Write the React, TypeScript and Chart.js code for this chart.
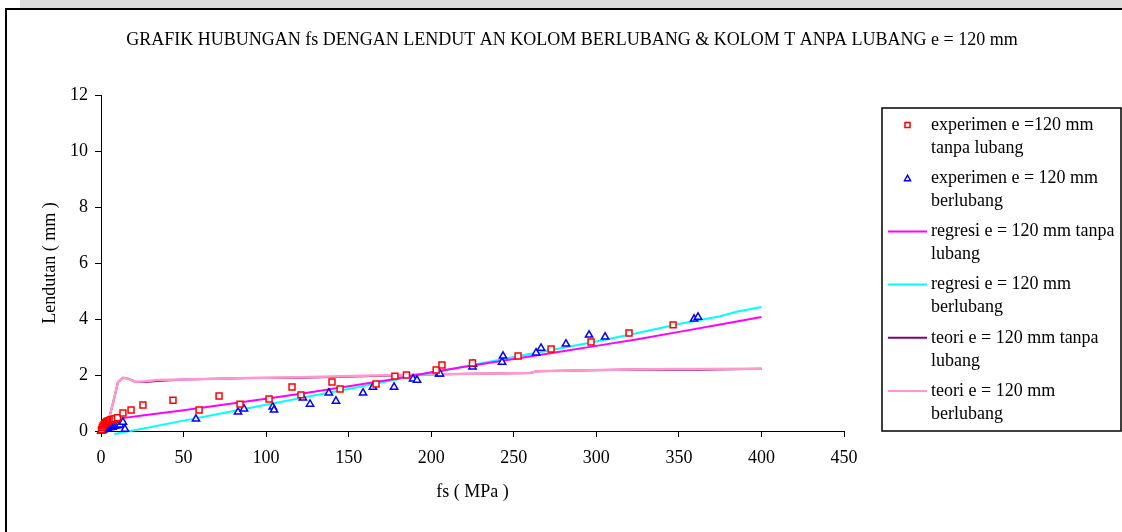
import React, { useEffect, useRef } from "react";
import { Chart, registerables } from "chart.js";

Chart.register(...registerables);

const CANVAS_W = 1122;
const CANVAS_H = 532;

const TITLE = "GRAFIK HUBUNGAN fs DENGAN LENDUT AN KOLOM BERLUBANG & KOLOM T ANPA LUBANG e = 120 mm";
const X_TITLE = "fs ( MPa )";
const Y_TITLE = "Lendutan ( mm )";

const X_MIN = 0;
const X_MAX = 450;
const X_STEP = 50;
const Y_MIN = 0;
const Y_MAX = 12;
const Y_STEP = 2;

// experimen e = 120 mm tanpa lubang (red squares)
const expTanpaX = [0.3, 0.8, 1.2, 1.8, 2.3, 2.9, 3.4, 4.0, 4.6, 5.3, 6.0, 6.8, 7.6, 8.5, 10.0, 13.3, 18.2, 25.4, 43.6, 59.4, 71.5, 84.2, 101.8, 115.7, 121.1, 139.9, 144.8, 166.6, 178.0, 185.0, 203.0, 206.5, 225.0, 252.6, 272.6, 296.8, 319.8, 346.5];
const expTanpaY = [0.05, 0.12, 0.18, 0.22, 0.27, 0.3, 0.33, 0.35, 0.36, 0.38, 0.4, 0.38, 0.42, 0.44, 0.47, 0.64, 0.75, 0.93, 1.1, 0.75, 1.25, 0.96, 1.14, 1.57, 1.29, 1.75, 1.5, 1.68, 1.96, 2.0, 2.18, 2.36, 2.43, 2.68, 2.93, 3.18, 3.5, 3.79];

// experimen e = 120 mm berlubang (blue triangles)
const expBerX = [0.2, 0.6, 1.0, 1.5, 2.0, 2.6, 3.2, 3.9, 4.6, 5.4, 6.2, 7.0, 8.0, 9.0, 10.2, 11.5, 13.3, 14.5, 57.5, 83.0, 86.6, 104.0, 104.8, 122.3, 126.6, 138.0, 142.3, 158.7, 164.7, 177.5, 189.0, 191.4, 204.7, 205.3, 225.0, 225.3, 242.9, 243.5, 263.5, 266.5, 281.6, 295.6, 305.3, 359.2, 361.6];
const expBerY = [0.0, 0.02, 0.04, 0.05, 0.07, 0.08, 0.1, 0.1, 0.12, 0.13, 0.15, 0.14, 0.17, 0.18, 0.2, 0.22, 0.32, 0.07, 0.43, 0.68, 0.79, 0.86, 0.75, 1.18, 0.96, 1.36, 1.07, 1.36, 1.57, 1.57, 1.86, 1.82, 2.04, 2.04, 2.29, 2.39, 2.46, 2.68, 2.79, 2.96, 3.11, 3.43, 3.36, 4.0, 4.07];

// regresi e = 120 mm tanpa lubang (magenta)
const regTanpaX = [0.5, 5, 13, 25, 50, 75, 100, 125, 150, 175, 200, 225, 250, 275, 300, 325, 350, 375, 400];
const regTanpaY = [0.22, 0.35, 0.46, 0.55, 0.74, 0.95, 1.15, 1.37, 1.6, 1.83, 2.1, 2.34, 2.57, 2.8, 3.04, 3.28, 3.54, 3.8, 4.07];

// regresi e = 120 mm berlubang (cyan)
const regBerX = [8, 25, 50, 75, 100, 125, 150, 175, 200, 225, 250, 275, 300, 325, 350, 375, 385, 400];
const regBerY = [-0.11, 0.08, 0.37, 0.65, 0.94, 1.22, 1.5, 1.79, 2.07, 2.36, 2.64, 2.92, 3.2, 3.5, 3.82, 4.1, 4.26, 4.43];

// teori e = 120 mm tanpa lubang (purple)
const teoriTanpaX = [0, 3.5, 7.3, 10.3, 13.3, 16, 20.6, 27, 34, 50, 90, 120, 165, 205, 260, 264, 320, 350, 362, 400];
const teoriTanpaY = [0, 0.14, 1.0, 1.75, 1.9, 1.88, 1.76, 1.75, 1.79, 1.84, 1.89, 1.9, 1.96, 2.03, 2.07, 2.13, 2.2, 2.19, 2.19, 2.22];

// teori e = 120 mm berlubang (pink)
const teoriBerX = [0, 3.5, 7.3, 10.3, 13.3, 16, 20.6, 27, 34, 50, 90, 120, 165, 205, 260, 264, 320, 350, 362, 400];
const teoriBerY = [0, 0.14, 1.0, 1.75, 1.9, 1.88, 1.76, 1.78, 1.82, 1.84, 1.89, 1.92, 1.98, 2.03, 2.07, 2.13, 2.2, 2.21, 2.21, 2.22];

const LEGEND_TEXT = [
  ["experimen e =120 mm", "tanpa lubang"],
  ["experimen e = 120 mm", "berlubang"],
  ["regresi e = 120 mm tanpa", "lubang"],
  ["regresi e = 120 mm", "berlubang"],
  ["teori e = 120 mm tanpa", "lubang"],
  ["teori e = 120 mm", "berlubang"],
];

const FONT_FAMILY = "'Liberation Serif', 'Times New Roman', serif";

const zip = (xs: number[], ys: number[]) => xs.map((x, i) => ({ x, y: ys[i] }));

const decorPlugin = {
  id: "decor",
  beforeDraw(chart: any) {
    const ctx = chart.ctx;
    ctx.save();
    ctx.fillStyle = "#ffffff";
    ctx.fillRect(0, 0, chart.width, chart.height);
    ctx.fillStyle = "#dcdcdc";
    ctx.fillRect(20, 0, chart.width - 20, 8);
    ctx.strokeStyle = "#000000";
    ctx.lineWidth = 2;
    ctx.beginPath();
    ctx.moveTo(6, chart.height + 2);
    ctx.lineTo(6, 9);
    ctx.lineTo(chart.width + 2, 9);
    ctx.stroke();
    ctx.restore();
  },
  afterDraw(chart: any) {
    const ctx = chart.ctx;
    ctx.save();
    // title
    ctx.fillStyle = "#000000";
    ctx.font = `18px ${FONT_FAMILY}`;
    ctx.textAlign = "center";
    ctx.textBaseline = "middle";
    ctx.fillText(TITLE, 572, 40);

    // legend box
    const bx = 882, by = 108, bw = 239, bh = 323;
    ctx.fillStyle = "#ffffff";
    ctx.fillRect(bx, by, bw, bh);
    ctx.strokeStyle = "#000000";
    ctx.lineWidth = 1.5;
    ctx.strokeRect(bx, by, bw, bh);

    const ds = chart.data.datasets;
    ctx.font = `18px ${FONT_FAMILY}`;
    ctx.textAlign = "left";
    ctx.textBaseline = "middle";
    for (let i = 0; i < ds.length; i++) {
      const d = ds[i];
      const y0 = 125 + i * 53.2;
      if (d.showLine) {
        ctx.strokeStyle = d.borderColor;
        ctx.lineWidth = 2;
        ctx.beginPath();
        ctx.moveTo(888, y0);
        ctx.lineTo(927, y0);
        ctx.stroke();
      } else {
        ctx.strokeStyle = d.pointBorderColor;
        ctx.lineWidth = 1.5;
        if (d.pointStyle === "rect") {
          ctx.strokeRect(905, y0 - 2.5, 5, 5);
        } else {
          ctx.beginPath();
          ctx.moveTo(907.5, y0 - 3);
          ctx.lineTo(910.5, y0 + 2.5);
          ctx.lineTo(904.5, y0 + 2.5);
          ctx.closePath();
          ctx.stroke();
        }
      }
      ctx.fillStyle = "#000000";
      const lines = LEGEND_TEXT[i];
      lines.forEach((t, k) => ctx.fillText(t, 931, y0 + k * 23));
    }
    ctx.restore();
  },
};

export default function App() {
  const canvasRef = useRef<HTMLCanvasElement | null>(null);

  useEffect(() => {
    document.body.style.margin = "0";
    const canvas = canvasRef.current;
    if (!canvas) return;
    const chart = new Chart(canvas, {
      type: "scatter",
      data: {
        datasets: [
          {
            label: "experimen e =120 mm tanpa lubang",
            data: zip(expTanpaX, expTanpaY),
            showLine: false,
            pointStyle: "rect",
            pointRadius: 4.2,
            pointBorderWidth: 1.5,
            pointBorderColor: "#ff0000",
            pointBackgroundColor: "#ffffff",
            order: 0,
            clip: false,
          },
          {
            label: "experimen e = 120 mm berlubang",
            data: zip(expBerX, expBerY),
            showLine: false,
            pointStyle: "triangle",
            pointRadius: 4.2,
            pointBorderWidth: 1.5,
            pointBorderColor: "#0000ff",
            pointBackgroundColor: "#ffffff",
            order: 0,
            clip: false,
          },
          {
            label: "regresi e = 120 mm tanpa lubang",
            data: zip(regTanpaX, regTanpaY),
            showLine: true,
            borderColor: "#ff00ff",
            borderWidth: 2,
            pointRadius: 0,
            tension: 0,
            order: 1,
            clip: false,
          },
          {
            label: "regresi e = 120 mm berlubang",
            data: zip(regBerX, regBerY),
            showLine: true,
            borderColor: "#00ffff",
            borderWidth: 2,
            pointRadius: 0,
            tension: 0,
            order: 1,
            clip: false,
          },
          {
            label: "teori e = 120 mm tanpa lubang",
            data: zip(teoriTanpaX, teoriTanpaY),
            showLine: true,
            borderColor: "#800080",
            borderWidth: 2,
            pointRadius: 0,
            tension: 0,
            order: 3,
            clip: false,
          },
          {
            label: "teori e = 120 mm berlubang",
            data: zip(teoriBerX, teoriBerY),
            showLine: true,
            borderColor: "#ff99cc",
            borderWidth: 2.5,
            pointRadius: 0,
            tension: 0,
            order: 2,
            clip: false,
          },
        ],
      },
      options: {
        responsive: false,
        animation: false,
        layout: { padding: { left: 20, top: 95, right: 278, bottom: 21 } },
        plugins: {
          legend: { display: false },
          title: { display: false },
          tooltip: { enabled: false },
        },
        scales: {
          x: {
            type: "linear",
            min: X_MIN,
            max: X_MAX,
            afterFit: (s: any) => { s.height = 80; },
            ticks: {
              stepSize: X_STEP,
              color: "#000000",
              padding: 10,
              font: { family: FONT_FAMILY, size: 18 },
            },
            grid: { drawOnChartArea: false, drawTicks: true, tickLength: 6, color: "#000000" },
            border: { display: true, color: "#000000", width: 1 },
            title: {
              display: true,
              text: X_TITLE,
              color: "#000000",
              font: { family: FONT_FAMILY, size: 18 },
              padding: { top: 0, bottom: 8 },
            },
          },
          y: {
            type: "linear",
            min: Y_MIN,
            max: Y_MAX,
            afterFit: (s: any) => { s.width = 81; },
            ticks: {
              stepSize: Y_STEP,
              color: "#000000",
              padding: 7,
              font: { family: FONT_FAMILY, size: 18 },
            },
            grid: { drawOnChartArea: false, drawTicks: true, tickLength: 6, color: "#000000" },
            border: { display: true, color: "#000000", width: 1 },
            title: {
              display: true,
              text: Y_TITLE,
              color: "#000000",
              font: { family: FONT_FAMILY, size: 18 },
              padding: { top: 19, bottom: 0 },
            },
          },
        },
      },
      plugins: [decorPlugin],
    } as any);
    return () => chart.destroy();
  }, []);

  return (
    <div style={{ position: "fixed", left: 0, top: 0, width: CANVAS_W, height: CANVAS_H }}>
      <canvas ref={canvasRef} width={CANVAS_W} height={CANVAS_H} style={{ display: "block" }} />
    </div>
  );
}
